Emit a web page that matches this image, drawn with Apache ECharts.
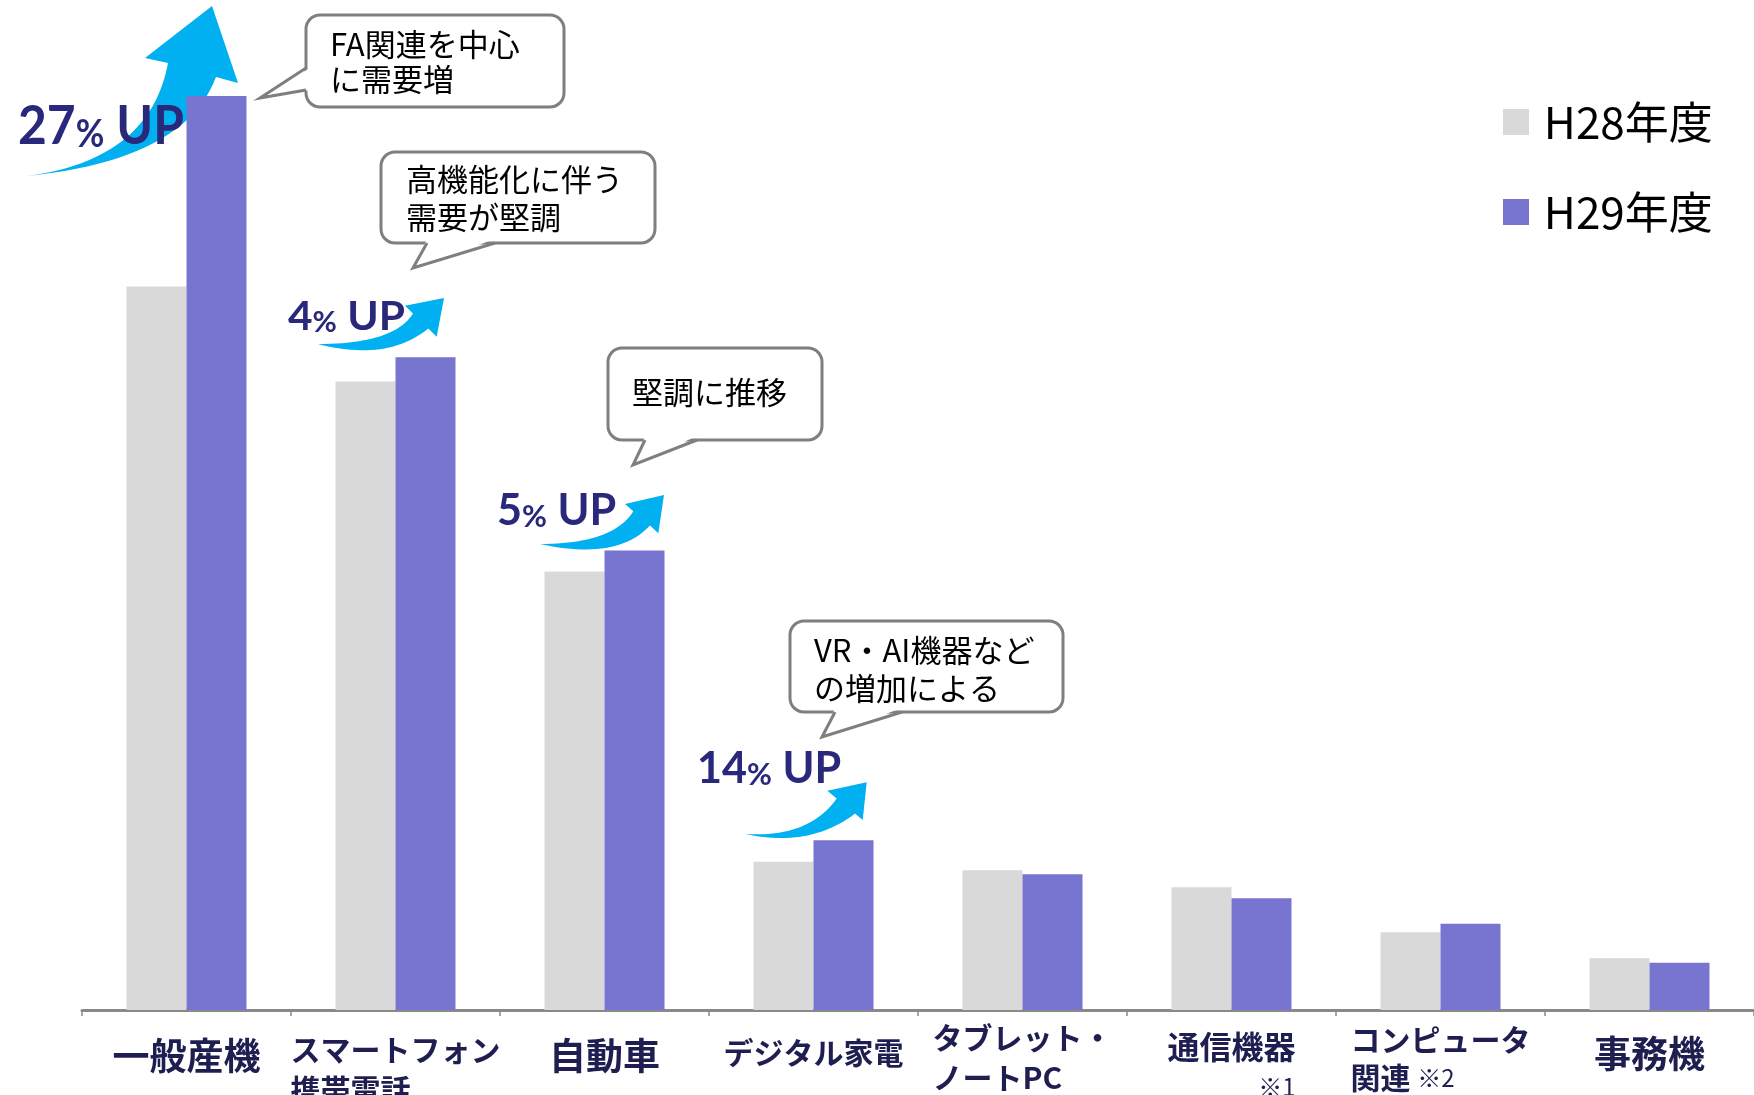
<!DOCTYPE html>
<html>
<head>
<meta charset="utf-8">
<script src="https://cdn.jsdelivr.net/npm/echarts@6/dist/echarts.min.js"></script>
<style>
  html, body { margin: 0; padding: 0; background: #fff; }
  #chart { width: 1754px; height: 1095px; }
</style>
</head>
<body>
<div id="chart"></div>
<script>
// 品目別の需要 H28 / H29
const categories = ['一般産機', 'スマートフォン\n携帯電話', '自動車', 'デジタル家電', 'タブレット・\nノートPC', '通信機器\n※1', 'コンピュータ\n関連 ※2', '事務機'];
const h28 = [723.5, 628.6, 438.4, 148.3, 139.7, 122.7, 77.7, 51.7];
const h29 = [914.0, 652.7, 459.6, 169.7, 135.7, 111.7, 86.3, 47.3];
const seriesNames = ['H28年度', 'H29年度'];

// 注記
const upRates = ['27', '4', '5', '14'];
const notes = ['FA関連を中心\nに需要増', '高機能化に伴う\n需要が堅調', '堅調に推移', 'VR・AI機器など\nの増加による'];

const navy = '#29287A';
const labelColor = '#1E1E50';
const cjk = 'Noto Sans CJK JP';

// ラベル各行のスタイル名
const labelLineStyles = [['a'], ['b1', 'b2'], ['a'], ['d'], ['t1', 't2'], ['c1', 'nr'], ['k1', 'k2'], ['e']];

function lbl(fs, lh, extra) {
  return Object.assign({ fontSize: fs, lineHeight: lh, fontWeight: 'bold', color: labelColor, fontFamily: cjk, align: 'left' }, extra || {});
}

// 矢印の形（吹き出し・矢印は装飾なので画面座標）
const arrowShapes = [
  { T: [27, 176], cu: [150, 160], L1: [168, 63], BL: [145, 58], TIP: [212, 6], BR: [238, 83], R1: [216, 77], cl: [185, 160] },
  { T: [318, 344], cu: [394, 344], L1: [413, 313.5], BL: [405, 305.7], TIP: [444, 298], BR: [436.7, 336.7], R1: [428.3, 328.5], cl: [387, 362] },
  { T: [540, 544], cu: [613, 544], L1: [633.3, 511.3], BL: [625, 504], TIP: [664, 495], BR: [658.3, 533.3], R1: [650, 525.5], cl: [617, 561] },
  { T: [745, 834], cu: [809, 838], L1: [836.7, 798.5], BL: [827.3, 790.7], TIP: [866.7, 782.3], BR: [862.7, 820], R1: [855, 813.6], cl: [810, 848] }
];
const upLayout = [
  { x: 18, base: 144, F: 54, sx: 0.92 },
  { x: 288, base: 330, F: 40, sx: 1.06 },
  { x: 497, base: 525, F: 44, sx: 0.98 },
  { x: 697, base: 783, F: 44, sx: 0.98 }
];
const noteLayout = [
  { x: 306, y: 15, w: 258, h: 92, side: 'left', p1: 68, tip: [260, 98], p2: 90, tx: 330, ty: 27, lh: 35 },
  { x: 381, y: 152, w: 274, h: 91, side: 'bottom', p1: 427, tip: [413, 268], p2: 495, tx: 406, ty: 160, lh: 38 },
  { x: 608, y: 348, w: 214, h: 92, side: 'bottom', p1: 645, tip: [633, 465], p2: 697, tx: 632, ty: 373, lh: 38 },
  { x: 790, y: 621, w: 273, h: 91, side: 'bottom', p1: 835, tip: [822, 737], p2: 902, tx: 814, ty: 631, lh: 38 }
];

function quad(a, c, b, n) {
  const pts = [];
  for (let i = 0; i <= n; i++) {
    const t = i / n, u = 1 - t;
    pts.push([u * u * a[0] + 2 * u * t * c[0] + t * t * b[0], u * u * a[1] + 2 * u * t * c[1] + t * t * b[1]]);
  }
  return pts;
}

function arrow(s) {
  const pts = quad(s.T, s.cu, s.L1, 24).concat([s.BL, s.TIP, s.BR], quad(s.R1, s.cl, s.T, 24));
  return { type: 'polygon', shape: { points: pts }, style: { fill: '#00B0F0' } };
}

function upLabel(rate, l) {
  const F = l.F, f = Math.round(F * 0.7);
  return {
    type: 'text', x: l.x, y: l.base + 0.18 * F, scaleX: l.sx,
    style: {
      text: '{n|' + rate + '}{p|%}{n| UP}',
      align: 'left', verticalAlign: 'bottom',
      rich: {
        n: { fontSize: F, fontWeight: 'bold', fontFamily: 'Lato', fill: navy, lineHeight: F, verticalAlign: 'bottom' },
        p: { fontSize: f, fontWeight: 'bold', fontFamily: 'Lato', fill: navy, lineHeight: 2 * (0.18 * F + 0.32 * f), verticalAlign: 'bottom' }
      }
    }
  };
}

function bubble(b, text) {
  const els = [];
  els.push({ type: 'rect', shape: { x: b.x, y: b.y, width: b.w, height: b.h, r: 14 }, style: { fill: '#fff', stroke: '#7F7F7F', lineWidth: 3 } });
  let fillPts, linePts;
  if (b.side === 'bottom') {
    const yb = b.y + b.h;
    fillPts = [[b.p1, yb - 4], b.tip, [b.p2, yb - 4]];
    linePts = [[b.p1, yb], b.tip, [b.p2, yb]];
  } else {
    fillPts = [[b.x + 4, b.p1], b.tip, [b.x + 4, b.p2]];
    linePts = [[b.x, b.p1], b.tip, [b.x, b.p2]];
  }
  els.push({ type: 'polygon', shape: { points: fillPts }, style: { fill: '#fff' } });
  els.push({ type: 'polyline', shape: { points: linePts }, style: { stroke: '#7F7F7F', lineWidth: 3, fill: 'none' } });
  els.push({ type: 'text', x: b.tx, y: b.ty, style: { text: text, fontSize: 31, fontFamily: cjk, fill: '#000', lineHeight: b.lh, align: 'left', verticalAlign: 'top' } });
  return els;
}

let graphics = [];
arrowShapes.forEach(function (s) { graphics.push(arrow(s)); });
upRates.forEach(function (r, i) { graphics.push(upLabel(r, upLayout[i])); });
notes.forEach(function (t, i) { graphics = graphics.concat(bubble(noteLayout[i], t)); });

const chart = echarts.init(document.getElementById('chart'));
const option = {
  animation: false,
  backgroundColor: '#fff',
  grid: { left: 82, right: 0, top: 10, bottom: 85, outerBoundsMode: 'none', containLabel: false },
  legend: {
    orient: 'vertical',
    left: 1498,
    top: 95,
    itemWidth: 26,
    itemHeight: 26,
    itemGap: 46,
    icon: 'rect',
    formatter: function (name) { return ' ' + name; },
    textStyle: { fontSize: 44, lineHeight: 44, color: '#000', fontFamily: cjk },
    data: seriesNames
  },
  xAxis: {
    type: 'category',
    data: categories,
    axisLine: { lineStyle: { color: '#898989', width: 3 } },
    axisTick: { show: true, length: 6, lineStyle: { color: '#898989', width: 1.5 } },
    axisLabel: {
      interval: 0,
      margin: 9,
      formatter: function (value, index) {
        const keys = labelLineStyles[index];
        return value.split('\n').map(function (line, i) {
          const key = keys[i];
          if (key === 'nr') return '{nr|' + line + '}';
          const k = line.indexOf('※');
          if (k > 0) return '{' + key + '|' + line.slice(0, k) + '}{n|' + line.slice(k) + '}';
          return '{' + key + '|' + line + '}';
        }).join('\n');
      },
      rich: {
        a: lbl(37, 73),
        e: lbl(37, 69),
        b1: lbl(30, 62),
        b2: lbl(30, 18),
        d: lbl(30, 68),
        t1: lbl(30, 38),
        t2: lbl(30, 42),
        c1: lbl(32, 56),
        nr: lbl(24, 24, { fontWeight: 'normal', align: 'right' }),
        k1: lbl(30, 42),
        k2: lbl(30, 34),
        n: lbl(24, 34, { fontWeight: 'normal' })
      }
    }
  },
  yAxis: { type: 'value', min: 0, max: 1000, show: false },
  graphic: graphics,
  series: [
    { name: seriesNames[0], type: 'bar', data: h28, barWidth: 60, barGap: '0%', itemStyle: { color: '#D9D9D9' } },
    { name: seriesNames[1], type: 'bar', data: h29, barWidth: 60, barGap: '0%', itemStyle: { color: '#7775D0' } }
  ]
};
chart.setOption(option);
</script>
</body>
</html>
